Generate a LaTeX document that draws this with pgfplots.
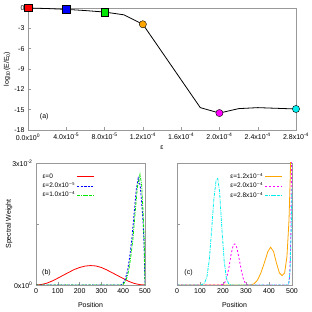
\documentclass[border=0pt]{standalone}
\usepackage{fontspec}
\setmainfont{Liberation Sans}
\newfontfamily\supf{DejaVu Sans}
\usepackage{pgfplots}
\pgfplotsset{compat=1.18}
\definecolor{myorange}{RGB}{255,165,0}
\definecolor{mygreen}{RGB}{0,230,0}
\definecolor{mymagenta}{RGB}{255,0,255}
\definecolor{mycyan}{RGB}{0,238,238}
\begin{document}
\begin{tikzpicture}
\path[use as bounding box] (0pt,0pt) rectangle (312pt,312pt);
\pgfplotsset{every axis/.append style={
  font=\fontsize{7}{8}\selectfont,
  scale only axis, anchor=south west,
  axis line style={gray!80},
  every tick/.style={gray!80},
  tick align=inside, major tick length=3pt,
  xtick pos=left, ytick pos=left,
  scaled ticks=false,
}}
% ---------------- panel (a)
\begin{axis}[at={(28pt,182pt)}, width=268pt, height=122pt,
  xmin=0, xmax=2.8e-4, ymin=-18, ymax=0,
  xtick={0,4e-5,8e-5,1.2e-4,1.6e-4,2.0e-4,2.4e-4,2.8e-4},
  xticklabels={0.0x10\textsuperscript{0},4.0x10\textsuperscript{-5},8.0x10\textsuperscript{-5},1.2x10\textsuperscript{-4},1.6x10\textsuperscript{-4},2.0x10\textsuperscript{-4},2.4x10\textsuperscript{-4},2.8x10\textsuperscript{-4}},
  ytick={-18,-15,-12,-9,-6,-3,0},
  yticklabels={-18,-15,-12,-9,-6,-3,0},
  xlabel={ε}, ylabel={log\textsubscript{10}(E/E\textsubscript{0})},
  x label style={at={(axis description cs:0.5,-0.147)},anchor=center},
  y label style={at={(axis description cs:-0.078,0.5)},anchor=center,rotate=0},
  clip=false]
\addplot[black, line width=0.8pt] coordinates {
 (0,0) (2e-5,-0.08) (4e-5,-0.2) (6e-5,-0.38) (8e-5,-0.6) (1.0e-4,-1.0)
 (1.2e-4,-2.4) (1.4e-4,-6.5) (1.6e-4,-10.6) (1.8e-4,-14.7) (2.0e-4,-15.5)
 (2.2e-4,-14.85) (2.4e-4,-14.7) (2.6e-4,-14.8) (2.8e-4,-14.9)};
\addplot[only marks, mark=square*, mark size=3.7pt, draw=none, fill=red] coordinates {(0,0)};
\addplot[only marks, mark=square*, mark size=3.7pt, draw=none, fill=blue] coordinates {(4e-5,-0.2)};
\addplot[only marks, mark=square*, mark size=3.7pt, draw=none, fill=mygreen] coordinates {(8e-5,-0.6)};
\addplot[only marks, mark=*, mark size=3.6pt, draw=none, fill=myorange] coordinates {(1.2e-4,-2.4)};
\addplot[only marks, mark=*, mark size=3.6pt, draw=none, fill=mymagenta] coordinates {(2.0e-4,-15.5)};
\addplot[only marks, mark=*, mark size=3.6pt, draw=none, fill=mycyan] coordinates {(2.8e-4,-14.9)};
\node at (axis cs:1.7e-5,-16.1) {(a)};
\end{axis}
% ---------------- panel (b)
\begin{axis}[at={(36pt,27pt)}, width=109pt, height=122pt,
  xmin=0, xmax=500, ymin=0, ymax=0.03,
  xtick={0,100,200,300,400,500},
  xticklabels={0,100,200,300,400,500},
  ytick={0,0.015,0.03},
  yticklabels={0x10\textsuperscript{0},,3x10\textsuperscript{-2}},
  xlabel={Position}, ylabel={Spectral Weight},
  x label style={at={(axis description cs:0.5,-0.164)},anchor=center},
  y label style={at={(axis description cs:-0.248,0.5)},anchor=center,rotate=0},
  legend style={draw=none, fill=none, at={(axis description cs:0.04,0.93)}, anchor=north west,
    font=\fontsize{6.5}{8.5}\selectfont, row sep=-1pt, inner sep=0pt},
  legend plot pos=right, legend cell align=left]
\addplot[color=red, line width=0.8pt] coordinates {
 (0,0) (25,0.00012) (50,0.00046) (75,0.001) (100,0.00168) (125,0.0024) (150,0.0031)
 (175,0.0038) (200,0.0043) (225,0.00465) (250,0.00478) (275,0.00468) (300,0.0043)
 (325,0.0037) (350,0.003) (375,0.0023) (400,0.0016) (425,0.0009) (450,0.0004)
 (475,0.0001) (500,0)};
\addlegendentry{ε=0}
\addplot[color=blue, line width=0.8pt, dash pattern=on 2pt off 1.5pt] coordinates {
 (0,0) (390,0) (400,0.0005) (410,0.0015) (420,0.0035) (430,0.007) (440,0.0115)
 (450,0.0175) (460,0.0235) (469,0.0263) (478,0.0245) (485,0.02) (490,0.0165)
 (495,0.011) (500,0)};
\addlegendentry{ε=2.0x10{\supf ⁻⁵}}
\addplot[color=mygreen, line width=0.8pt, dash pattern=on 3pt off 1pt on 0.8pt off 1pt] coordinates {
 (0,0) (395,0) (405,0.0005) (415,0.0015) (425,0.0035) (435,0.007) (445,0.0115)
 (455,0.018) (465,0.024) (477,0.0272) (485,0.0245) (492,0.017) (497,0.01) (500,0)};
\addlegendentry{ε=1.0x10{\supf ⁻⁴}}
\node at (axis cs:48,0.0031) {(b)};
\end{axis}
% ---------------- panel (c)
\begin{axis}[at={(177pt,27pt)}, width=115pt, height=122pt,
  xmin=0, xmax=500, ymin=0, ymax=0.03,
  xtick={0,100,200,300,400,500},
  xticklabels={0,100,200,300,400,500},
  ytick={0,0.015,0.03},
  yticklabels={,,},
  xlabel={Position},
  x label style={at={(axis description cs:0.5,-0.164)},anchor=center},
  legend style={draw=none, fill=none, at={(axis description cs:0.92,0.93)}, anchor=north east,
    font=\fontsize{6.5}{8.5}\selectfont, row sep=-1pt, inner sep=0pt},
  legend plot pos=right, legend cell align=right]
\addplot[color=myorange, line width=0.8pt] coordinates {
 (0,0) (320,0) (335,0.0003) (350,0.0012) (365,0.003) (380,0.0055) (395,0.0082)
 (407,0.0093) (420,0.0082) (432,0.0055) (445,0.003) (457,0.0023) (468,0.003)
 (478,0.007) (487,0.016) (493,0.028) (497,0.04) (500,0.05)};
\addlegendentry{ε=1.2x10{\supf ⁻⁴}}
\addplot[color=mymagenta, line width=0.8pt, dash pattern=on 2pt off 2pt] coordinates {
 (0,0) (190,0) (205,0.0003) (215,0.0015) (225,0.004) (235,0.0075) (245,0.0099)
 (252,0.0101) (260,0.0092) (270,0.0065) (280,0.0035) (290,0.0012) (300,0.0002)
 (310,0) (485,0) (490,0.002) (495,0.012) (498,0.03) (500,0.04)};
\addlegendentry{ε=2.0x10{\supf ⁻⁴}}
\addplot[color=mycyan, line width=0.8pt, dash pattern=on 3pt off 1pt on 0.8pt off 1pt] coordinates {
 (0,0) (105,0) (120,0.0005) (130,0.002) (140,0.006) (150,0.013) (160,0.021)
 (170,0.0258) (177,0.0262) (185,0.023) (195,0.014) (205,0.006) (215,0.0015)
 (225,0.0003) (235,0) (485,0) (492,0.004) (497,0.015) (500,0.024)};
\addlegendentry{ε=2.8x10{\supf ⁻⁴}}
\node at (axis cs:50,0.0031) {(c)};
\end{axis}
\end{tikzpicture}
\end{document}
